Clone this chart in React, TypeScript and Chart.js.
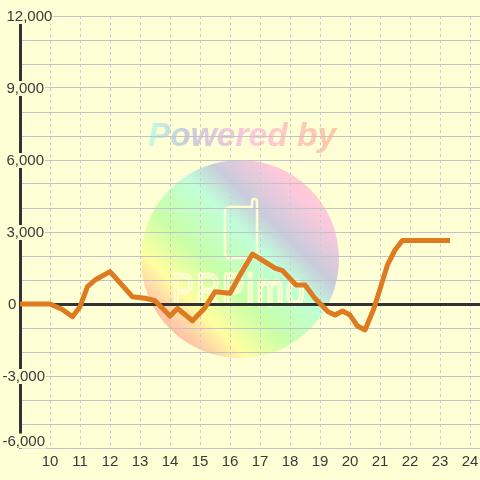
import React, { useEffect, useRef } from "react";
import { Chart, registerables } from "chart.js";

Chart.register(...registerables);

const hours = [9, 10, 10.4, 10.75, 11, 11.25, 11.5, 12, 12.4, 12.75, 13.17, 13.5, 14, 14.25, 14.75, 15.15, 15.5, 16, 16.33, 16.75, 17.5, 17.75, 18.2, 18.5, 18.83, 19.27, 19.5, 19.75, 20, 20.25, 20.5, 20.8, 21.25, 21.5, 21.75, 23.25];
const values = [0, 0, -220, -530, -110, 720, 1000, 1350, 790, 300, 240, 140, -500, -190, -700, -180, 510, 450, 1200, 2080, 1490, 1390, 790, 790, 240, -320, -460, -290, -460, -920, -1080, -180, 1630, 2250, 2650, 2650];
const yLabelValues = [12000, 9000, 6000, 3000, 0, -3000, -6000];
const xHidden = [9];
const watermarkTop = "Powered by";
const watermarkBottom = "PRPimo";

const FONT = "15px 'Liberation Sans'";
const BG = "#FFFFD5";
const INK = "#3A3A3A";

const watermark = {
  id: "watermark",
  beforeDraw(chart: any) {
    const c = chart.ctx;
    c.save();
    c.fillStyle = BG;
    c.fillRect(0, 0, chart.width, chart.height);

    const stops: [number, string][] = [
      [0, "#FFB8A0"],
      [0.08, "#FFCCA8"],
      [0.2, "#FFFFA0"],
      [0.38, "#C8FFA8"],
      [0.6, "#C0FFD8"],
      [0.73, "#C8CCDC"],
      [0.92, "#FFC8DC"],
      [1, "#FFD0C8"],
    ];
    const g = c.createLinearGradient(165, 335, 315, 185);
    stops.forEach(([o, col]) => g.addColorStop(o, col));
    c.fillStyle = g;
    c.beginPath();
    c.arc(240, 259, 99, 0, Math.PI * 2);
    c.fill();

    const t = c.createLinearGradient(148, 0, 336, 0);
    t.addColorStop(0, "#C0FFE0");
    t.addColorStop(0.2, "#C8CCDC");
    t.addColorStop(0.55, "#FFC8DC");
    t.addColorStop(1, "#FFC8A0");
    c.fillStyle = t;
    c.font = "italic bold 33.5px 'Liberation Sans'";
    c.textAlign = "left";
    c.textBaseline = "alphabetic";
    c.fillText(watermarkTop, 148, 146);

    c.strokeStyle = "#FDFDCF";
    c.lineWidth = 2.5;
    c.lineJoin = "round";
    c.beginPath();
    c.moveTo(229, 207);
    c.lineTo(252, 207);
    c.lineTo(252, 202);
    c.arc(254.5, 201.5, 2.5, Math.PI, 0);
    c.lineTo(257, 254);
    c.arcTo(257, 258, 253, 258, 4);
    c.lineTo(229, 258);
    c.arcTo(225, 258, 225, 254, 4);
    c.lineTo(225, 211);
    c.arcTo(225, 207, 229, 207, 4);
    c.stroke();

    c.save();
    c.translate(172, 305);
    c.scale(0.75, 1);
    c.lineWidth = 2.8;
    c.font = "44px 'Liberation Sans'";
    (c as any).letterSpacing = "3px";
    c.strokeText(watermarkBottom, 0, 0);
    c.restore();
    c.restore();
  },
};

const yLabels = {
  id: "yLabels",
  beforeDatasetsDraw(chart: any) {
    const c = chart.ctx;
    const s = chart.scales.y;
    c.save();
    c.font = FONT;
    c.textBaseline = "middle";
    c.textAlign = "left";
    yLabelValues.forEach((v) => {
      const text = v.toLocaleString("en-US");
      const w = c.measureText(text).width;
      const x = v < 0 ? 2.5 : v === 0 ? 8 : 6.5;
      let y = s.getPixelForValue(v) + 1;
      if (v === s.min) y -= 7.5;
      c.fillStyle = BG;
      c.fillRect(x - 1, y - 8, w + 2, 15);
      c.fillStyle = INK;
      c.fillText(text, x, y);
    });
    c.restore();
  },
};

export default function App() {
  const ref = useRef<HTMLCanvasElement>(null);
  useEffect(() => {
    document.body.style.margin = "0";
    const chart = new Chart(ref.current!, {
      type: "line",
      data: {
        datasets: [
          {
            data: hours.map((h, i) => ({ x: h, y: values[i] })),
            borderColor: "#DE7A20",
            borderWidth: 5,
            borderCapStyle: "square",
            borderJoinStyle: "round",
            pointRadius: 0,
            tension: 0,
          },
        ],
      },
      options: {
        animation: false,
        responsive: false,
        devicePixelRatio: 1,
        layout: { autoPadding: false, padding: { top: 16, left: 0, right: 0, bottom: 0 } },
        plugins: { legend: { display: false }, tooltip: { enabled: false } },
        scales: {
          x: {
            type: "linear",
            min: 9,
            max: 24.3333,
            afterFit: (s: any) => {
              s.height = 32;
              s.paddingLeft = 0;
              s.paddingRight = 0;
            },
            border: { display: false, dash: [3, 3] },
            grid: {
              color: "#CCCCCC",
              lineWidth: 1,
              drawTicks: false,
            },
            ticks: {
              stepSize: 1,
              includeBounds: false,
              maxRotation: 0,
              autoSkip: false,
              padding: 5,
              color: INK,
              font: { family: "Liberation Sans", size: 15 },
              callback: (v: any) => (xHidden.includes(v) ? "" : String(v)),
            },
          },
          y: {
            min: -6000,
            max: 12000,
            afterFit: (s: any) => {
              s.width = 20;
            },
            border: { display: true, color: "#333333", width: 3 },
            grid: {
              color: (ctx: any) => (ctx.tick && ctx.tick.value === 0 ? "#333333" : "#C2C2CA"),
              lineWidth: (ctx: any) => (ctx.tick && ctx.tick.value === 0 ? 3 : 1),
              drawTicks: false,
            },
            ticks: { stepSize: 1000, display: false, autoSkip: false },
          },
        },
      },
      plugins: [watermark, yLabels],
    } as any);
    return () => chart.destroy();
  }, []);
  return <canvas ref={ref} width={480} height={480} style={{ display: "block" }} />;
}
